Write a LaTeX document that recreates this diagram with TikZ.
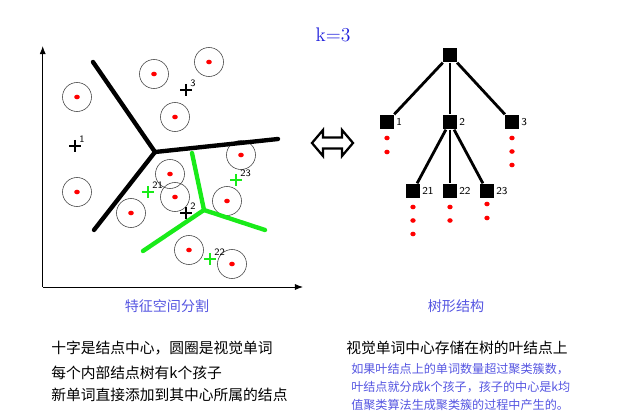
\documentclass[tikz,border=0pt]{standalone}
\usepackage{fontspec}
\newfontfamily\cjk{Noto Sans CJK SC}
\usetikzlibrary{arrows.meta,calc,positioning}
\definecolor{capblue}{RGB}{85,85,225}
\definecolor{kblue}{RGB}{30,30,220}
\definecolor{cellgreen}{RGB}{25,235,25}

\tikzset{
  word/.style={draw=black!75, line width=0.4pt},
  cut/.style={line width=3.1pt, line cap=round},
  subcut/.style={cut, draw=cellgreen},
  marklabel/.style={font=\sffamily\fontsize{7}{8}\selectfont, anchor=west, inner sep=0.5pt},
  centre/.pic={\draw[line width=1.9pt] (-6,0) -- (6,0) (0,-6) -- (0,6);
               \node[marklabel, text=black] at (3.5,-7) {#1};},
  treenode/.style={fill=black, minimum size=10.5pt, inner sep=0pt,
                   label={[font=\sffamily\fontsize{7.5}{8}\selectfont, inner sep=1pt]east:#1}},
  leafdot/.style={fill=red},
  caption/.style={font=\cjk\fontsize{10}{12}\selectfont, text=capblue},
  note/.style={font=\cjk\fontsize{10.5}{13}\selectfont, anchor=west, inner sep=0pt},
  bluenote/.style={font=\cjk\fontsize{8.6}{10}\selectfont, anchor=west, inner sep=0pt, text=capblue}
}

\begin{document}
\begin{tikzpicture}[x=0.025cm, y=-0.025cm, >=Latex, every node/.style={font=\cjk}]
  \useasboundingbox (0,0) rectangle (640,420);

  % feature space
  \begin{scope}
    \draw[->, line width=0.6pt] (42.7,287) -- (42.7,46);
    \draw[->, line width=0.6pt] (42.7,287) -- (303,287);

    \foreach \cx/\cy in {77/97, 154/74, 209/62, 175/117, 77/192, 241/155,
                         170/174, 175/197, 227/201, 131/213, 189/250, 232/264} {
      \draw[word] (\cx,\cy) circle[radius=14.5];
      \fill[red] (\cx,\cy) ellipse[x radius=2.8, y radius=2.3];
    }

    \draw[cut] (93,62) -- (155,152) -- (278,139);
    \draw[cut] (155,152) -- (94,230);
    \draw[subcut] (192,153) -- (204,210) -- (265,230);
    \draw[subcut] (204,210) -- (143,251);

    \pic at (75,146) {centre=1};
    \pic at (186,90) {centre=3};
    \pic at (186,213) {centre=2};
    \pic[cellgreen] at (148,192) {centre=21};
    \pic[cellgreen] at (236,180) {centre=23};
    \pic[cellgreen] at (210,259) {centre=22};

    \node[caption] (space) at (167,306) {特征空间分割};
  \end{scope}

  \node[font=\fontsize{14}{16}\selectfont, text=kblue] (k) at (333,35) {k=3};

  % equivalence arrow
  \draw[line width=1.6pt, line join=miter] (312,143) -- (323,130) -- (323,137.5) -- (342,137.5)
    -- (342,130) -- (353,143) -- (342,156) -- (342,148.5) -- (323,148.5) -- (323,156) -- cycle;

  % tree
  \begin{scope}
    \node[treenode=] (root) at (450,55) {};
    \node[treenode=1] (n1) at (387,122) {};
    \node[treenode=2] (n2) at (450,122) {};
    \node[treenode=3] (n3) at (512,122) {};
    \node[treenode=21] (n21) at (413,191) {};
    \node[treenode=22] (n22) at (450,191) {};
    \node[treenode=23] (n23) at (487,191) {};

    \draw[line width=2pt] (root) -- (n1);
    \draw[line width=1.3pt] (root) -- (n2);
    \draw[line width=2pt] (root) -- (n3);
    \draw[line width=2pt] (n2) -- (n21);
    \draw[line width=1.3pt] (n2) -- (n22);
    \draw[line width=2pt] (n2) -- (n23);

    \foreach \leaf/\dy in {n1/16, n1/30, n3/16, n3/29.5, n3/43, n21/16, n21/29.5, n21/43,
                           n22/16, n22/29.5, n23/13, n23/27}
      \fill[leafdot] ($(\leaf)+(0,\dy)$) ellipse[x radius=2.7, y radius=2.3];

    \node[caption] (treecap) at (456,306) {树形结构};
  \end{scope}

  % notes
  \node[note] (l1) at (51,348) {十字是结点中心，圆圈是视觉单词};
  \node[note] (l2) at (51,373) {每个内部结点树有k个孩子};
  \node[note] (l3) at (51,395) {新单词直接添加到其中心所属的结点};
  \node[note] (r1) at (346,348) {视觉单词中心存储在树的叶结点上};
  \node[bluenote] (r2) at (351,369) {如果叶结点上的单词数量超过聚类簇数，};
  \node[bluenote] (r3) at (351,387) {叶结点就分成k个孩子，孩子的中心是k均};
  \node[bluenote] (r4) at (351,405) {值聚类算法生成聚类簇的过程中产生的。};
\end{tikzpicture}
\end{document}
